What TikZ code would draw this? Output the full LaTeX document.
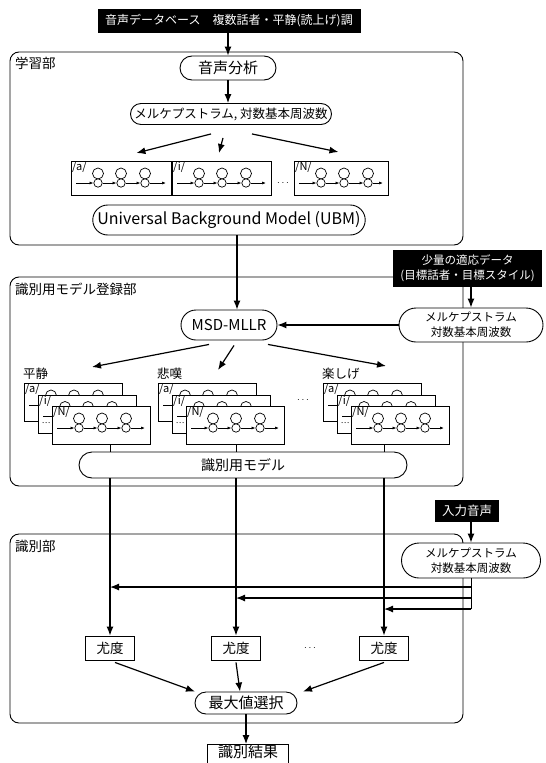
\documentclass[tikz,border=0pt]{standalone}
\usepackage{fontspec}
\setmainfont{Noto Sans CJK JP}
\usetikzlibrary{positioning,arrows.meta,shapes.misc}
\tikzset{
  marco/.style={draw,line width=0.9pt,rounded corners=9pt},
  caja/.style={draw,line width=0.9pt,fill=white,inner sep=2pt,align=center},
  pildora/.style={draw,rounded rectangle,line width=0.9pt,fill=white,inner sep=2pt,align=center},
  negro/.style={fill=black,text=white,inner sep=2pt,align=center},
  flecha/.style={-{Latex[length=9pt,width=7pt]},line width=1.2pt},
  linea/.style={line width=1pt},
  lazo/.style={line width=0.7pt},
  titulo/.style={anchor=north west,inner sep=0pt,font=\fontsize{13.5}{14}\selectfont},
  etiqueta/.style={inner sep=1pt,font=\fontsize{11}{11}\selectfont},
}
% caja de HMM: #1 nombre, #2 x, #3 y (esquina sup. izq.), #4 ancho, #5 alto, #6 etiqueta
\newcommand{\hmm}[6]{%
  \node[caja,anchor=north west,minimum width=#4pt,minimum height=#5pt] (#1) at (#2,#3) {};
  \node[etiqueta,anchor=north west] (#1e) at (#1.north west) {#6};
  \begin{scope}[shift={(#2,#3)}]
    \draw[lazo,-{Latex[length=4pt,width=3pt]}] (5,22) -- (22.5,22);
    \draw[lazo,-{Latex[length=4pt,width=3pt]}] (31.5,22) -- (45.5,22);
    \draw[lazo,-{Latex[length=4pt,width=3pt]}] (54.5,22) -- (69.5,22);
    \draw[lazo,-{Latex[length=4pt,width=3pt]}] (78.5,22) -- ({#4-5},22);
    \foreach \s in {27,50,74}{
      \draw[lazo] (\s,12.5) circle[radius=5.5pt];
      \draw[lazo,fill=white] (\s,22) circle[radius=4.2pt];
    }
  \end{scope}}
\begin{document}
\begin{tikzpicture}[x=1pt,y=-1pt]
  \useasboundingbox (0,0) rectangle (546,763);
  % marcos
  \draw[marco] (10,52) rectangle (463,245);
  \draw[marco] (10,277) rectangle (463,486);
  \draw[marco] (10,534) rectangle (463,723);
  \node[titulo] (t1) at (15,57) {学習部};
  \node[titulo] (t2) at (15,283) {識別用モデル登録部};
  \node[titulo] (t3) at (15,540) {識別部};
  % aprendizaje
  \node[negro,minimum width=263pt,minimum height=24pt,font=\fontsize{12}{12}\selectfont] (bd) at (229,21) {音声データベース　複数話者・平静(読上げ)調};
  \node[pildora,minimum width=100pt,minimum height=24pt,font=\fontsize{15}{15}\selectfont] (an) at (228,68) {音声分析};
  \node[pildora,minimum width=205pt,minimum height=21pt,font=\fontsize{12.5}{12.5}\selectfont] (mc1) at (231,114) {メルケプストラム, 対数基本周波数};
  \draw[flecha] (an.north |- bd.south) -- (an.north);
  \draw[flecha] (an.south) -- (an.south |- mc1.north);
  \hmm{ha}{71}{161}{100}{34}{/a/}
  \hmm{hi}{172}{161}{99}{34}{/i/}
  \hmm{hn}{294}{161}{94}{34}{/N/}
  \node (pt1) at (283,183) {$\cdots$};
  \draw[flecha] ([xshift=-20pt,yshift=-9pt]mc1.south) -- ([xshift=15pt,yshift=8pt]ha.north);
  \draw[flecha] ([xshift=-8pt,yshift=-13pt]mc1.south) -- ([xshift=-3pt,yshift=8pt]hi.north);
  \draw[flecha] ([xshift=21pt,yshift=-9pt]mc1.south) -- ([xshift=-3pt,yshift=9pt]hn.north);
  \node[pildora,minimum width=272pt,minimum height=30pt,font=\fontsize{16}{16}\selectfont] (ubm) at (229,220) {Universal Background Model (UBM)};
  % registro
  \node[negro,minimum width=149pt,minimum height=37pt,font=\fontsize{11.5}{15}\selectfont] (ad) at (467.5,268.5) {少量の適応データ\\(目標話者・目標スタイル)};
  \node[pildora,minimum width=148pt,minimum height=34pt,font=\fontsize{11.5}{15}\selectfont] (mc2) at (471,325) {メルケプストラム\\対数基本周波数};
  \node[pildora,minimum width=100pt,minimum height=30pt,font=\fontsize{15}{15}\selectfont] (msd) at (229,325) {MSD-MLLR};
  \draw[flecha] ([xshift=8pt]ubm.south) -- ([xshift=8pt]ubm.south |- msd.north);
  \draw[flecha] (mc2.north |- ad.south) -- (mc2.north);
  \draw[flecha] (mc2.west) -- (msd.east);
  \foreach \gx/\nom/\tit in {24/gA/平静,158/gB/悲嘆,323/gC/楽しげ}{
    \node[anchor=west,inner sep=0pt,font=\fontsize{12.5}{12.5}\selectfont] (\nom t) at (\gx-1,374) {\tit};
    \hmm{\nom a}{\gx}{383}{98}{38}{/a/}
    \hmm{\nom i}{\gx+14}{394.5}{98}{38}{/i/}
    \node[inner sep=0pt,font=\fontsize{8}{8}\selectfont] (\nom d) at (\gx+22,423) {…};
    \hmm{\nom n}{\gx+28}{406}{98}{38}{/N/}
  }
  \node (pt2) at (303,400) {$\cdots$};
  \coordinate (pA) at (92,367);
  \coordinate (pB) at (218,370);
  \coordinate (pC) at (386,366);
  \draw[flecha] ([xshift=-20pt,yshift=-4pt]msd.south) -- (pA);
  \draw[flecha] ([xshift=5pt,yshift=-5pt]msd.south) -- (pB);
  \draw[flecha] ([xshift=39pt,yshift=-4pt]msd.south) -- (pC);
  \node[pildora,minimum width=332pt,minimum height=26pt,font=\fontsize{14}{14}\selectfont] (mod) at (243,465) {識別用モデル};
  % identificacion
  \node[negro,minimum width=64pt,minimum height=22pt,font=\fontsize{12.5}{12.5}\selectfont] (inp) at (467,511) {入力音声};
  \node[pildora,minimum width=143pt,minimum height=35pt,font=\fontsize{11.5}{15}\selectfont] (mc3) at (471,560.5) {メルケプストラム\\対数基本周波数};
  \draw[flecha] (mc3.north |- inp.south) -- (mc3.north);
  \node[caja,minimum width=49pt,minimum height=24pt,font=\fontsize{13.5}{13.5}\selectfont] (l1) at (110,648) {尤度};
  \node[caja,minimum width=49pt,minimum height=24pt,font=\fontsize{13.5}{13.5}\selectfont] (l2) at (236,648) {尤度};
  \node[caja,minimum width=49pt,minimum height=24pt,font=\fontsize{13.5}{13.5}\selectfont] (l3) at (384,648) {尤度};
  \node (pt3) at (310,648) {$\cdots$};
  \foreach \n/\l in {gAn/l1,gBn/l2,gCn/l3}{
    \draw[linea] (\l.north |- \n.south) -- (\l.north |- mod.north);
    \draw[flecha] (\l.north |- mod.south) -- (\l.north);
  }
  \coordinate (r1) at (471,587);
  \coordinate (r2) at (471,598);
  \coordinate (r3) at (471,609);
  \draw[linea] (mc3.south) -- (r3);
  \draw[flecha] (r1) -- (r1 -| l1.north);
  \draw[flecha] (r2) -- (r2 -| l2.north);
  \draw[flecha] (r3) -- (r3 -| l3.north);
  \node[pildora,minimum width=106pt,minimum height=22pt,font=\fontsize{15}{15}\selectfont] (mx) at (246,703) {最大値選択};
  \draw[flecha] ([xshift=5pt,yshift=-2pt]l1.south) -- ([xshift=-51pt]mx.north);
  \draw[flecha] ([yshift=-2pt]l2.south) -- ([xshift=-6pt]mx.north);
  \draw[flecha] ([yshift=-2pt]l3.south) -- ([xshift=57pt]mx.north);
  \node[caja,anchor=north,minimum width=81pt,text height=11.5pt,text depth=12pt,font=\fontsize{15}{15}\selectfont] (res) at (248,744) {識別結果};
  \draw[flecha] (mx.south) -- (mx.south |- res.north);
\end{tikzpicture}
\end{document}
